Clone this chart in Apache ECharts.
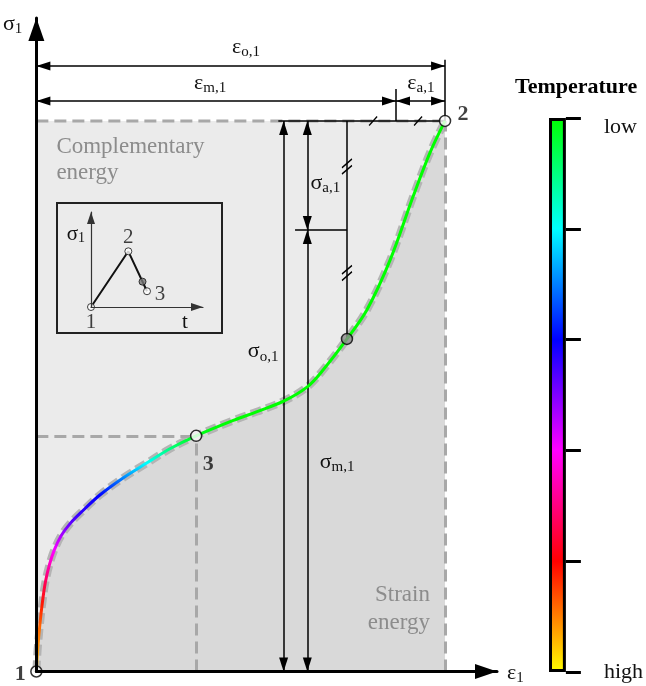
<!DOCTYPE html>
<html><head><meta charset="utf-8">
<script src="https://cdn.jsdelivr.net/npm/echarts@6/dist/echarts.min.js"></script>
<style>html,body{margin:0;padding:0;background:#fff}#c{width:646px;height:686px}</style>
</head><body><div id="c"></div>
<script>
// ---------------- data ----------------
// main stress-strain curve (normalised: point 2 = (1,1))
const strain = [0, 0.0032, 0.0086, 0.0147, 0.022, 0.032, 0.044, 0.061, 0.083, 0.108, 0.156, 0.213, 0.271, 0.328, 0.391, 0.482, 0.540, 0.605, 0.663, 0.702, 0.760, 0.809, 0.866, 0.922, 0.963, 1];
const stress = [0, 0.040, 0.085, 0.125, 0.162, 0.194, 0.221, 0.247, 0.269, 0.288, 0.321, 0.352, 0.379, 0.405, 0.428, 0.456, 0.472, 0.491, 0.517, 0.548, 0.604, 0.657, 0.748, 0.863, 0.942, 1];
// position on the temperature colour bar for each curve point (0 = high ... 5 = low)
const temperature = [0.2, 0.4, 0.6, 0.9, 1.3, 1.7, 2.0, 2.3, 2.6, 2.8, 3.0, 3.5, 4.0, 4.5, 4.9, 5, 5, 5, 5, 5, 5, 5, 5, 5, 5, 5];
// colour bar
const tempScaleColors = ['#ffff00', '#ff0000', '#ff00ff', '#0000ff', '#00ffff', '#00ff00']; // high -> low
const tempTicks = [0, 1, 2, 3, 4, 5];
const tempTickLabels = ['high', '', '', '', '', 'low'];
// key points 1, 2, 3 and the mean/amplitude point
const keyNames = ['1', '2', '3', ''];
const keyStrain = [0, 1, 0.391, 0.760];
const keyStress = [0, 1, 0.428, 0.604];
// amplitudes / means
const epsO = 1, epsM = 0.88, sigO = 1, sigM = 0.802;
// inset sigma-t sketch
const insetT = [0, 1, 1.5];
const insetSigma = [0, 1, 0.283];
const insetNames = ['1', '2', '3'];
const insetMid = [1.38, 0.455];

// ---------------- styles ----------------
const serif = '"Liberation Serif","DejaVu Serif",serif';
const curveData = strain.map((x, i) => [x, stress[i]]);
const maxS = Math.max(...stress);
const curveStops = stress.map((s, i) => ({offset: s / maxS, color: echarts.color.lerp(temperature[i] / 5, tempScaleColors)}));
const barStops = tempScaleColors.slice().reverse().map((c, i, a) => ({offset: i / (a.length - 1), color: c}));
const rich = {
  g: {fontFamily: serif, fontSize: 22, color: '#111'},
  s: {fontFamily: serif, fontSize: 15, color: '#111', padding: [10, 0, 0, 0]}
};
const arrowEnds = (a, b) => [{coord: a}, {coord: b}];
const plain = (a, b) => [{coord: a, symbol: 'none'}, {coord: b, symbol: 'none'}];
const dashed = (a, b) => [{coord: a, symbol: 'none', lineStyle: {color: '#a8a8a8', width: 3, type: [12, 6]}}, {coord: b, symbol: 'none'}];
const txt = (coord, formatter, extra) => Object.assign({coord, symbol: 'circle', symbolSize: 0,
  label: Object.assign({show: true, position: 'inside', formatter, rich, color: '#111'}, extra || {})});
const slash = (coord, dbl) => ({coord, symbol: dbl ? 'path://M0,9L10,1M0,15L10,7' : 'path://M0,9L8,0',
  symbolSize: dbl ? [10, 15] : [8, 9], label: {show: false},
  itemStyle: {color: 'rgba(0,0,0,0)', borderColor: '#000', borderWidth: 1.4}});

const xDimTop = 1.0998, xDimMid = 1.036;
const sigOx = 0.605, sigMx = 0.663;

const keyFill = ['#fff', '#fff', '#fff', '#8a8a8a'];
const keyOffset = [[-16, 3], [18, -7], [12, 28], [0, 0]];
const insetFill = ['#fff', '#fff', '#fff'];
const insetOffset = [[0, 15], [0, -14], [13, 3]];

const chart = echarts.init(document.getElementById('c'));
chart.setOption({
  animation: false,
  title: {text: 'Temperature', left: 510, top: 71, textStyle: {fontFamily: serif, fontWeight: 'bold', fontSize: 22, color: '#000'}},
  grid: [
    {left: 36, top: 18, width: 461, height: 654},
    {left: 549, top: 118, width: 22, height: 554},
    {left: 91, top: 212, width: 112, height: 95}
  ],
  xAxis: [
    {gridIndex: 0, type: 'value', min: 0, max: 461 / 409, z: 30,
      axisLine: {show: true, onZero: false, symbol: ['none', 'triangle'], symbolSize: [15, 22], symbolOffset: [0, -11], lineStyle: {color: '#000', width: 3}},
      axisTick: {show: false}, axisLabel: {show: false}, splitLine: {show: false},
      name: '{g|ε}{s|1}', nameLocation: 'end', nameGap: 10, nameTextStyle: {rich, verticalAlign: 'middle', padding: [4, 0, 0, 0]}},
    {gridIndex: 1, type: 'category', data: ['T'], show: false},
    {gridIndex: 2, type: 'value', min: 0, max: 3, z: 30,
      axisLine: {show: true, onZero: false, symbol: ['none', 'triangle'], symbolSize: [8, 12], symbolOffset: [0, -6], lineStyle: {color: '#333', width: 1.2}},
      axisTick: {show: false}, axisLabel: {show: false}, splitLine: {show: false},
      name: 't', nameLocation: 'end', nameGap: -18,
      nameTextStyle: {fontFamily: serif, fontSize: 21, color: '#111', align: 'center', verticalAlign: 'top', padding: [5, 0, 0, 0]}}
  ],
  yAxis: [
    {gridIndex: 0, type: 'value', min: 0, max: 654 / 551, z: 30,
      axisLine: {show: true, onZero: false, symbol: ['none', 'triangle'], symbolSize: [16, 23], symbolOffset: [0, -11.5], lineStyle: {color: '#000', width: 3}},
      axisTick: {show: false}, axisLabel: {show: false}, splitLine: {show: false},
      name: '{g|σ}{s|1}', nameLocation: 'end', nameGap: -6, nameTextStyle: {rich, align: 'right', verticalAlign: 'middle', padding: [0, 14, 0, 0]}},
    {gridIndex: 1, type: 'value', min: 0, max: 5, interval: 1, position: 'right',
      axisLine: {show: false}, splitLine: {show: false},
      axisTick: {show: true, length: 15, lineStyle: {color: '#000', width: 3}},
      axisLabel: {margin: 38, fontFamily: serif, fontSize: 22, color: '#111',
        formatter: v => { const t = tempTickLabels[tempTicks.indexOf(v)] || ''; return v === 5 ? '{l|' + t + '}' : t; },
        rich: {l: {fontFamily: serif, fontSize: 22, color: '#111', padding: [18, 0, 0, 0]}}}},
    {gridIndex: 2, type: 'value', min: 0, max: 95 / 55.7, z: 30,
      axisLine: {show: true, onZero: false, symbol: ['none', 'triangle'], symbolSize: [8, 12], symbolOffset: [0, -6], lineStyle: {color: '#333', width: 1.2}},
      axisTick: {show: false}, axisLabel: {show: false}, splitLine: {show: false},
      name: '{g|σ}{s|1}', nameLocation: 'end', nameGap: -22,
      nameTextStyle: {rich: {g: {fontFamily: serif, fontSize: 21, color: '#111'}, s: {fontFamily: serif, fontSize: 14, color: '#111', padding: [9, 0, 0, 0]}},
        align: 'right', verticalAlign: 'middle', padding: [0, 6, 0, 0]}}
  ],
  graphic: [
    {type: 'rect', shape: {x: 57, y: 203, width: 165, height: 130}, style: {fill: 'none', stroke: '#222', lineWidth: 2}, z: 5}
  ],
  series: [
    // complementary energy rectangle
    {type: 'line', xAxisIndex: 0, yAxisIndex: 0, data: [[0, 1], [1, 1]], symbol: 'none', silent: true, z: 1,
      lineStyle: {color: '#a8a8a8', width: 3, type: [12, 6]}, areaStyle: {color: '#ebebeb', opacity: 1}},
    // strain energy + gray dashed curve
    {type: 'line', xAxisIndex: 0, yAxisIndex: 0, data: curveData, symbol: 'none', silent: true, z: 2,
      smooth: 0.35,
      lineStyle: {color: '#b4b4b4', width: 8, type: [11, 5]}, areaStyle: {color: '#d9d9d9', opacity: 1}},
    // coloured curve
    {type: 'line', xAxisIndex: 0, yAxisIndex: 0, data: curveData, symbol: 'none', silent: true, z: 5,
      smooth: 0.35,
      lineStyle: {width: 3, color: new echarts.graphic.LinearGradient(0, 1, 0, 0, curveStops)}},
    // annotations
    {type: 'line', xAxisIndex: 0, yAxisIndex: 0, data: [], symbol: 'none', silent: true, z: 10,
      markLine: {silent: true, symbol: ['triangle', 'triangle'], symbolSize: [9, 14], symbolOffset: [[0, 7], [0, 7]],
        label: {show: false}, lineStyle: {color: '#000', width: 1.5, type: 'solid'},
        emphasis: {disabled: true},
        data: [
          dashed([1, 0], [1, 1]),
          dashed([0, keyStress[2]], [keyStrain[2], keyStress[2]]),
          dashed([keyStrain[2], 0], [keyStrain[2], keyStress[2]]),
          arrowEnds([0, xDimTop], [epsO, xDimTop]),
          arrowEnds([0, xDimMid], [epsM, xDimMid]),
          arrowEnds([epsM, xDimMid], [epsO, xDimMid]),
          plain([epsO, sigO], [epsO, 1.111]),
          plain([epsM, sigO], [epsM, 1.058]),
          plain([0.592, sigO], [epsO, sigO]),
          arrowEnds([sigOx, 0], [sigOx, sigO]),
          arrowEnds([sigMx, sigM], [sigMx, sigO]),
          arrowEnds([sigMx, 0], [sigMx, sigM]),
          plain([0.633, sigM], [2 * epsM - epsO, sigM]),
          plain([2 * epsM - epsO, 2 * sigM - sigO], [2 * epsM - epsO, sigO])
        ]},
      markPoint: {silent: true, data: [
        txt([0.513, 1.134], '{g|ε}{s|o,1}'),
        txt([0.425, 1.069], '{g|ε}{s|m,1}'),
        txt([0.941, 1.069], '{g|ε}{s|a,1}'),
        txt([0.555, 0.581], '{g|σ}{s|o,1}'),
        txt([0.736, 0.381], '{g|σ}{s|m,1}'),
        txt([0.707, 0.887], '{g|σ}{s|a,1}'),
        txt([0.049, 0.929], 'Complementary\nenergy', {align: 'left', fontFamily: serif, fontSize: 23, lineHeight: 26, color: '#8c8c8c'}),
        txt([0.963, 0.113], 'Strain\nenergy', {align: 'right', fontFamily: serif, fontSize: 23, lineHeight: 28, color: '#8c8c8c'}),
        slash([0.824, 1]), slash([0.934, 1]),
        slash([2 * epsM - epsO, 0.917], true), slash([2 * epsM - epsO, 0.724], true)
      ]}},
    // key points
    {type: 'scatter', xAxisIndex: 0, yAxisIndex: 0, z: 20, silent: true, symbolSize: 11,
      itemStyle: {borderColor: '#000', borderWidth: 1.5},
      label: {show: true, position: 'inside', formatter: '{b}', fontFamily: serif, fontWeight: 'bold', fontSize: 22, color: '#111'},
      data: keyNames.map((n, i) => ({name: n, value: [keyStrain[i], keyStress[i]], itemStyle: {color: keyFill[i]}, label: {offset: keyOffset[i]}}))},
    // colour bar
    {type: 'bar', xAxisIndex: 1, yAxisIndex: 1, silent: true, barWidth: '100%', data: [tempTicks[tempTicks.length - 1]],
      itemStyle: {color: new echarts.graphic.LinearGradient(0, 0, 0, 1, barStops), borderColor: '#000', borderWidth: 3}},
    // inset
    {type: 'line', xAxisIndex: 2, yAxisIndex: 2, silent: true, z: 10, symbol: 'none',
      data: insetT.map((t, i) => [t, insetSigma[i]]), lineStyle: {color: '#111', width: 2}},
    {type: 'scatter', xAxisIndex: 2, yAxisIndex: 2, silent: true, z: 20, symbolSize: 7,
      itemStyle: {borderColor: '#111', borderWidth: 1},
      label: {show: true, position: 'inside', formatter: '{b}', fontFamily: serif, fontSize: 21, color: '#111'},
      data: insetNames.map((n, i) => ({name: n, value: [insetT[i], insetSigma[i]], itemStyle: {color: insetFill[i]}, label: {offset: insetOffset[i]}}))
        .concat([{name: '', value: insetMid, itemStyle: {color: '#777'}, label: {show: false}}])}
  ]
});
</script>
</body></html>
